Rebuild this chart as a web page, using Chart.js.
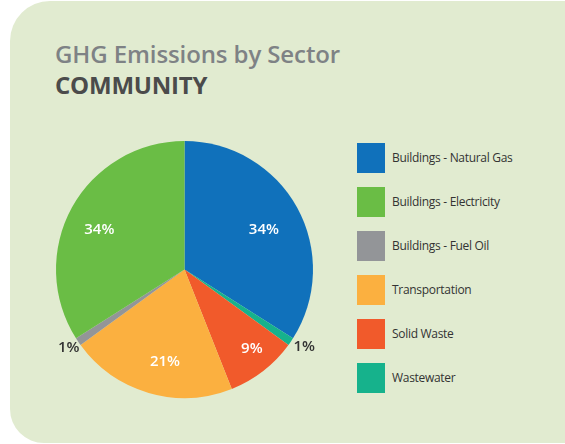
<!DOCTYPE html>
<html>
<head>
<meta charset="utf-8">
<script src="https://cdn.jsdelivr.net/npm/chart.js@4"></script>
<style>
    body { margin: 0; width: 565px; height: 444px; background: #ffffff; overflow: hidden; font-family: "Open Sans", sans-serif; }
    #panel { position: absolute; left: 10px; top: 1px; width: 600px; height: 442px; background: #e1ebd0; border-radius: 40px 0 0 34px; }
    #title1 { position: absolute; left: 55px; top: 37px; font-size: 24px; font-weight: 600; color: #7e8285; letter-spacing: -0.1px; }
    #title2 { position: absolute; left: 55px; top: 68px; font-size: 24px; font-weight: 700; color: #4b4b4b; letter-spacing: -0.2px; }
    #chartBox { position: absolute; left: 26px; top: 111px; width: 317px; height: 317px; }
    #legend { position: absolute; left: 357px; top: 143px; }
    .item { position: relative; height: 30px; margin-bottom: 14px; }
    .swatch { position: absolute; left: 0; top: 0; width: 28px; height: 30px; }
    .label { position: absolute; left: 35px; top: 6px; font-size: 12px; color: #333333; white-space: nowrap; letter-spacing: -0.3px; }
</style>
</head>
<body>
<div id="panel"></div>
<div id="title1">GHG Emissions by Sector</div>
<div id="title2">COMMUNITY</div>
<div id="chartBox"><canvas id="sectorPieChart" width="317" height="317"></canvas></div>
<div id="legend"></div>
<script>
const legendLabels = ['Buildings - Natural Gas', 'Buildings - Electricity', 'Buildings - Fuel Oil', 'Transportation', 'Solid Waste', 'Wastewater'];
const legendColors = ['#1071bb', '#6abd45', '#939598', '#fbb040', '#f15a2b', '#16b28c'];

// slice order, clockwise from the top
const sliceLabels = ['Buildings - Natural Gas', 'Wastewater', 'Solid Waste', 'Transportation', 'Buildings - Fuel Oil', 'Buildings - Electricity'];
const sliceValues = [34, 1, 9, 21, 1, 34];

// build the legend
const legendDiv = document.getElementById('legend');
legendLabels.forEach((name, i) => {
    const item = document.createElement('div');
    item.className = 'item';
    item.innerHTML = '<div class="swatch" style="background:' + legendColors[i] + '"></div><div class="label">' + name + '</div>';
    legendDiv.appendChild(item);
});

const sliceColors = sliceLabels.map(name => legendColors[legendLabels.indexOf(name)]);

// label placement: distance from center (fraction of radius) and angle nudge in degrees
const labelRadius = [0.69, 1.11, 0.81, 0.735, 1.09, 0.73];
const labelNudge = [2.4, -1.3, -2.5, -4.3, 0, -4];

const pctLabels = {
    id: 'pctLabels',
    afterDatasetsDraw(chart) {
        const ctx = chart.ctx;
        const meta = chart.getDatasetMeta(0);
        ctx.save();
        ctx.font = '600 15px "Open Sans", sans-serif';
        ctx.textAlign = 'center';
        ctx.textBaseline = 'middle';
        meta.data.forEach((arc, i) => {
            const mid = (arc.startAngle + arc.endAngle) / 2 + labelNudge[i] * Math.PI / 180;
            const r = arc.outerRadius * labelRadius[i];
            const x = arc.x + Math.cos(mid) * r;
            const y = arc.y + Math.sin(mid) * r;
            ctx.fillStyle = labelRadius[i] > 1 ? '#333333' : '#ffffff';
            ctx.fillText(sliceValues[i] + '%', x, y);
        });
        ctx.restore();
    }
};

new Chart(document.getElementById('sectorPieChart').getContext('2d'), {
    type: 'pie',
    data: {
        labels: sliceLabels,
        datasets: [{
            data: sliceValues,
            backgroundColor: sliceColors,
            borderWidth: 0
        }]
    },
    options: {
        responsive: false,
        animation: false,
        layout: { padding: 30 },
        plugins: {
            legend: { display: false },
            tooltip: { enabled: false }
        }
    },
    plugins: [pctLabels]
});
</script>
</body>
</html>
